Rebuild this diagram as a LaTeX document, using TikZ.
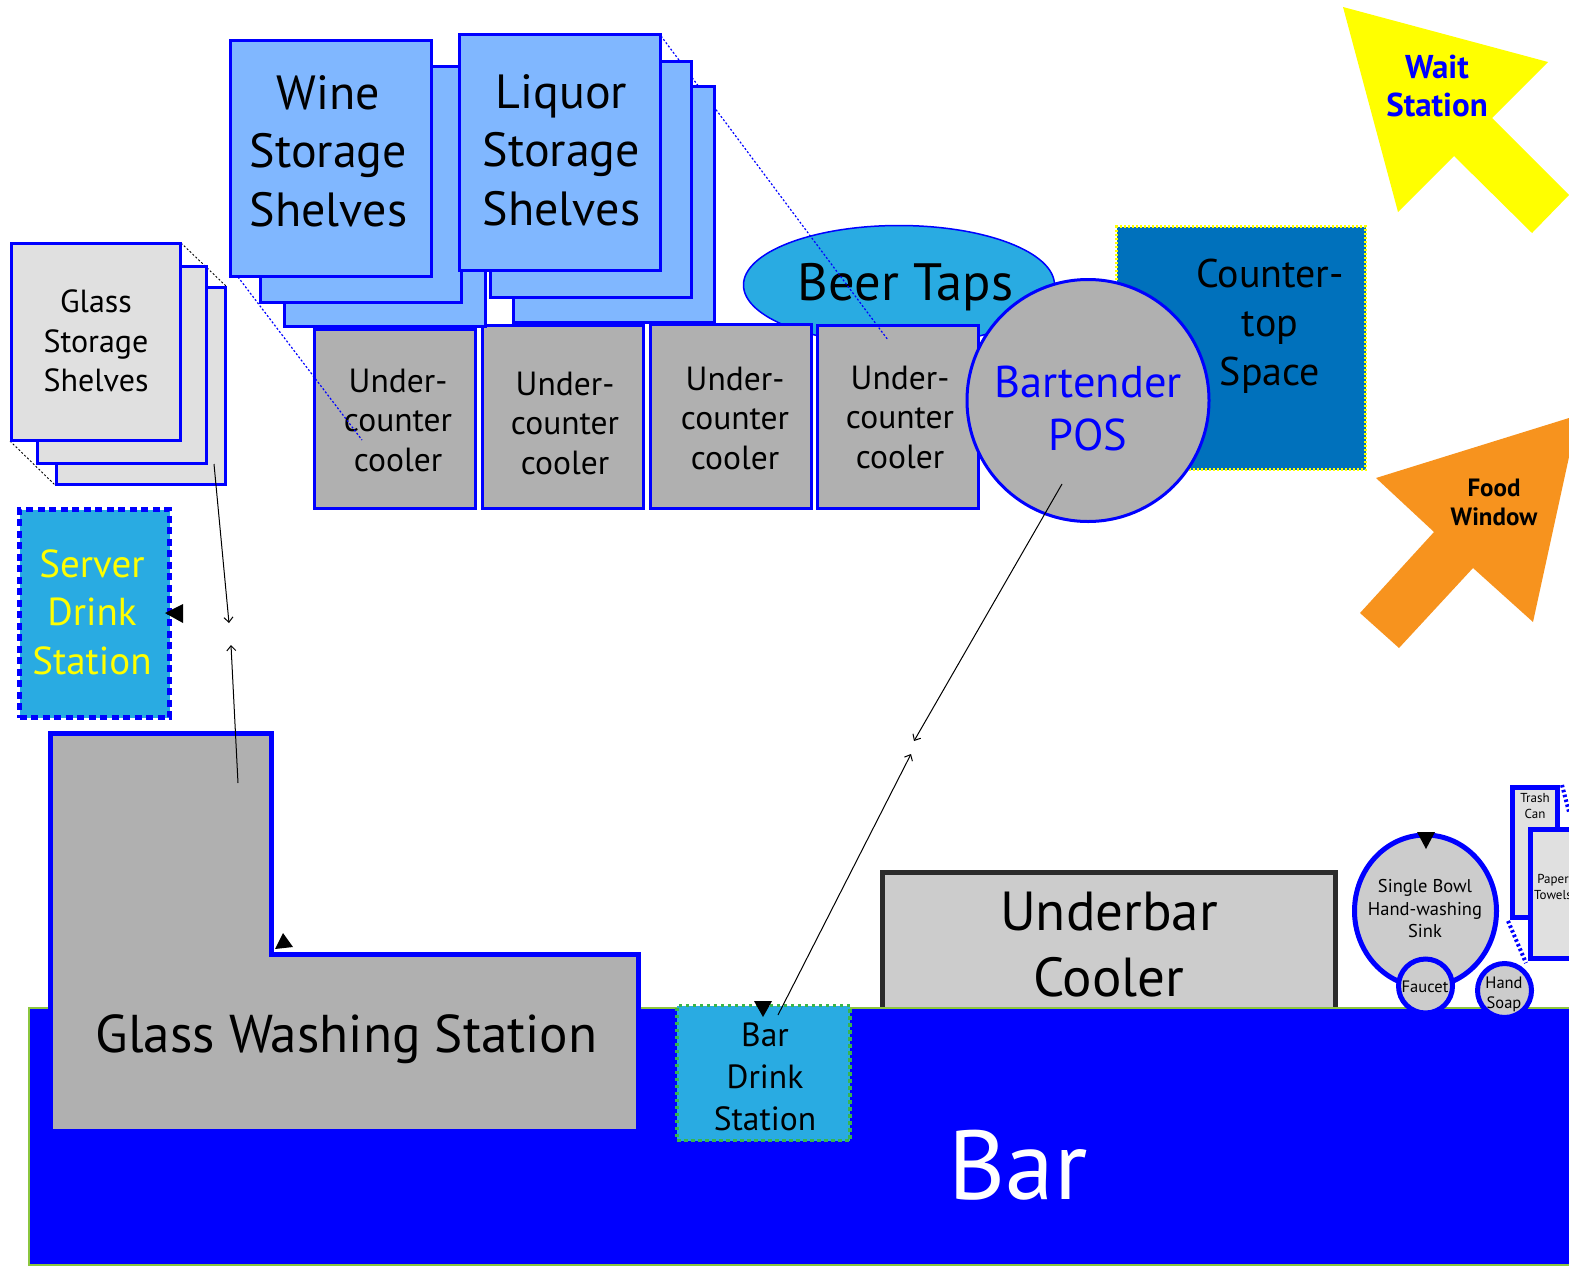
\documentclass[tikz,border=0pt]{standalone}
\usepackage{fontspec}
\setsansfont{PT Sans}
\usetikzlibrary{arrows.meta, shapes.geometric}
\definecolor{barblue}{HTML}{0000FF}
\definecolor{skyfill}{HTML}{29ABE2}
\definecolor{shelfblue}{HTML}{80B7FF}
\definecolor{shelfgray}{HTML}{E0E0E0}
\definecolor{coolergray}{HTML}{B0B0B0}
\definecolor{sinkgray}{HTML}{CCCCCC}
\definecolor{counterblue}{HTML}{0071BC}
\definecolor{waityellow}{HTML}{FFFF00}
\definecolor{foodorange}{HTML}{F7931E}
\definecolor{bargreen}{HTML}{8CC63F}
\definecolor{stationgreen}{HTML}{39B54A}
\definecolor{coolerline}{HTML}{2B2B2B}

\begin{document}
\begin{tikzpicture}[
    x=1pt, y=-1pt,
    every node/.style={font=\sffamily, inner sep=0pt, align=center},
    shelfblock/.style={draw=barblue, fill=shelfblue, line width=3pt, minimum width=201pt, minimum height=236pt},
    glassblock/.style={draw=barblue, fill=shelfgray, line width=3pt, minimum width=169pt, minimum height=197pt},
    coolerblock/.style={draw=barblue, fill=coolergray, line width=3pt, minimum width=161pt},
    shelftext/.style={text=black, font=\sffamily\fontsize{48}{58.5}\selectfont},
    coolertext/.style={text=black, font=\sffamily\fontsize{33.5}{39.5}\selectfont},
    sinkcircle/.style={draw=barblue, fill=sinkgray, line width=5pt, circle, minimum size=54pt},
    smalltext/.style={text=black, font=\sffamily\fontsize{16.5}{20}\selectfont},
    leadline/.style={line width=1pt, draw=black, -{Straight Barb[length=5pt, width=9pt]}},
    foldline/.style={line width=1.2pt, dash pattern=on 2pt off 2pt},
    stubtip/.style={fill=black},
]
\useasboundingbox (0,0) rectangle (1569,1266);

% === Counter-top space and beer taps ===
\node[draw=waityellow, fill=counterblue, line width=2.5pt, dash pattern=on 2pt off 2pt, minimum width=249pt, minimum height=243pt] (counter) at (1241,348) {};
\node[text=black, font=\sffamily\fontsize{40}{49}\selectfont] (countertext) at (1270,326) {Counter-\\top\\Space};

\node[draw=barblue, fill=skyfill, line width=1.5pt, ellipse, minimum width=311pt, minimum height=119pt] (taps) at (899,285) {};
\node[text=black, font=\sffamily\fontsize{52.5}{60}\selectfont] (tapstext) at (905.5,287) {Beer Taps};

% === Under-counter coolers ===
\node[coolerblock, minimum height=179pt] (cooler1) at (394.5,418.5) {};
\node[coolertext] (cooler1text) at (398,420) {Under-\\counter\\cooler};
\node[coolerblock, minimum height=183pt] (cooler2) at (562.5,416.5) {};
\node[coolertext] (cooler2text) at (565,423) {Under-\\counter\\cooler};
\node[coolerblock, minimum height=184pt] (cooler3) at (731,416) {};
\node[coolertext] (cooler3text) at (735,418) {Under-\\counter\\cooler};
\node[coolerblock, minimum height=183pt] (cooler4) at (897.5,416.5) {};
\node[coolertext] (cooler4text) at (900,417) {Under-\\counter\\cooler};

% fold lines of the shelf stacks
\draw[foldline, draw=barblue] (238,277) -- (362,440);
\draw[foldline, draw=barblue] (661,36) -- (888,340);
\draw[foldline, draw=black, line width=0.9pt] (181,243) -- (226,286);
\draw[foldline, draw=black, line width=0.9pt] (10,441) -- (55,485);

% === Wine shelves ===
\node[shelfblock] (wine3) at (384.5,208) {};
\node[shelfblock] (wine2) at (361,184.5) {};
\node[shelfblock] (wine1) at (330.5,158) {};
\node[shelftext] (winetext) at (328.5,151) {Wine\\Storage\\Shelves};

% === Liquor shelves ===
\node[shelfblock] (liquor3) at (613.5,204) {};
\node[shelfblock] (liquor2) at (590.5,179) {};
\node[shelfblock] (liquor1) at (559.5,152.5) {};
\node[shelftext] (liquortext) at (561.5,150) {Liquor\\Storage\\Shelves};

% === Glass shelves ===
\node[glassblock] (glass3) at (140.5,385.5) {};
\node[glassblock] (glass2) at (121.5,364.5) {};
\node[glassblock] (glass1) at (95.5,342) {};
\node[text=black, font=\sffamily\fontsize{32}{39.5}\selectfont] (glasstext) at (96,341) {Glass\\Storage\\Shelves};

% === Bartender POS ===
\node[draw=barblue, fill=coolergray, line width=3pt, circle, minimum size=242pt] (pos) at (1088,400.5) {};
\node[text=barblue, font=\sffamily\fontsize{44.5}{53}\selectfont] (postext) at (1088,409) {Bartender\\POS};

% === Wait station and food window ===
\fill[waityellow] (1343,7) -- (1548,62) -- (1492,118) -- (1569,195) -- (1532,233) -- (1454,156) -- (1398,212) -- cycle;
\node[text=barblue, font=\sffamily\bfseries\fontsize{33}{38}\selectfont] (waittext) at (1437,85.5) {Wait\\Station};
\fill[foodorange] (1376,478) -- (1569,418) -- (1569,457) -- (1533,622) -- (1473,568) -- (1399,648) -- (1360,613) -- (1434,532) -- cycle;
\node[text=black, font=\sffamily\bfseries\fontsize{25}{29}\selectfont] (foodtext) at (1494,502) {Food\\Window};

% === Server drink station ===
\node[draw=barblue, fill=skyfill, line width=4.5pt, dash pattern=on 7pt off 4.5pt, minimum width=150pt, minimum height=208pt] (server) at (94.5,613.5) {};
\node[text=waityellow, font=\sffamily\fontsize{39}{48.5}\selectfont] (servertext) at (92,612) {Server\\Drink\\Station};

% === Underbar cooler ===
\node[draw=coolerline, fill=sinkgray, line width=5pt, minimum width=453pt, minimum height=160pt] (underbar) at (1108.5,952) {};
\node[text=black, font=\sffamily\fontsize{55}{66}\selectfont] (underbartext) at (1109,945) {Underbar\\Cooler};

% === Sink corner ===
\node[draw=barblue, fill=shelfgray, line width=5pt, minimum width=45pt, minimum height=130pt] (trash) at (1535,852.5) {};
\node[text=black, font=\sffamily\fontsize{13}{16}\selectfont] (trashtext) at (1535,806) {Trash\\Can};
\node[draw=barblue, fill=shelfgray, line width=5pt, minimum width=50pt, minimum height=129pt] (towels) at (1555,894) {};
\node[text=black, font=\sffamily\fontsize{13}{16}\selectfont] (towelstext) at (1553,887) {Paper\\Towels};
\draw[line width=4pt, draw=barblue, dash pattern=on 2.5pt off 2.5pt] (1508,921) -- (1526,963);
\draw[line width=4pt, draw=barblue, dash pattern=on 2.5pt off 2.5pt] (1562,785) -- (1569,812);

\node[draw=barblue, fill=sinkgray, line width=5pt, ellipse, minimum width=142pt, minimum height=152pt] (sink) at (1425.5,911) {};
\node[text=black, font=\sffamily\fontsize{18.5}{22.5}\selectfont] (sinktext) at (1425,909) {Single Bowl\\Hand-washing\\Sink};

% === Bar ===
\node[draw=bargreen, fill=barblue, line width=1.5pt, minimum width=1560pt, minimum height=257pt] (bar) at (809,1136.5) {};
\node[text=white, font=\sffamily\fontsize{98}{100}\selectfont] (bartext) at (1018,1165) {Bar};

\node[sinkcircle] (faucet) at (1425.5,986) {};
\node[smalltext] (faucettext) at (1425,987) {Faucet};
\node[sinkcircle] (soap) at (1504.5,990.5) {};
\node[smalltext] (soaptext) at (1504,994) {Hand\\Soap};

% === Glass washing station ===
\draw[draw=barblue, fill=coolergray, line width=5pt] (50.5,733) -- (271,733) -- (271,954.5) -- (638.5,954.5) -- (638.5,1131.5) -- (50.5,1131.5) -- cycle;
\node[text=black, font=\sffamily\fontsize{53.2}{60}\selectfont] (washtext) at (346.5,1039) {Glass Washing Station};

% === Bar drink station ===
\node[draw=stationgreen, fill=skyfill, line width=3.5pt, dash pattern=on 3.5pt off 3.5pt, minimum width=173pt, minimum height=135pt] (bardrink) at (763.5,1073) {};
\node[text=black, font=\sffamily\fontsize{33.5}{42}\selectfont] (bardrinktext) at (765,1077) {Bar\\Drink\\Station};

% === Connectors ===
\coordinate (glassfrom) at (214,464);
\coordinate (glassgap) at (229,623);
\coordinate (washfrom) at (238,783);
\coordinate (washgap) at (231,645);
\coordinate (posfrom) at (1062,484);
\coordinate (posgap) at (914,741);
\coordinate (drinkfrom) at (778,1015);
\coordinate (drinkgap) at (911,754);
\draw[leadline] (glassfrom) -- (glassgap);
\draw[leadline] (washfrom) -- (washgap);
\draw[leadline] (posfrom) -- (posgap);
\draw[leadline] (drinkfrom) -- (drinkgap);

% black stubs
\fill[stubtip] (165,613) -- (183,604) -- (183,623) -- cycle;
\fill[stubtip] (283,933) -- (275,949) -- (293,947) -- cycle;
\fill[stubtip] (763,1017) -- (754,1001) -- (772,1001) -- cycle;
\fill[stubtip] (1426,849) -- (1417,832) -- (1435,832) -- cycle;

\end{tikzpicture}
\end{document}
